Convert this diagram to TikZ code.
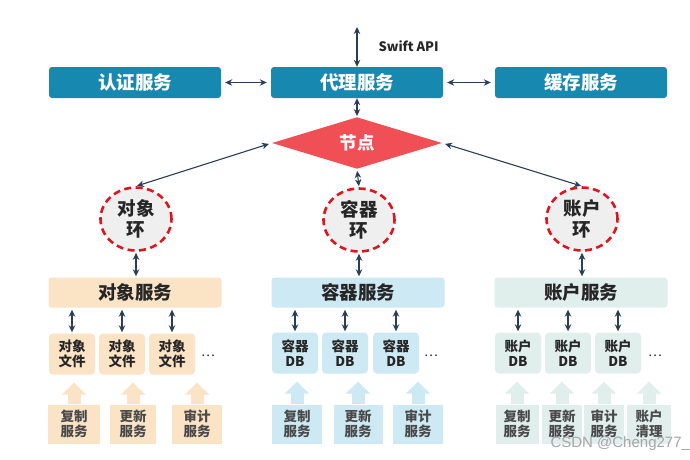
\documentclass[tikz,border=0pt]{standalone}
\usepackage{fontspec}
\setmainfont{Noto Sans CJK SC}
\newfontfamily\markfont{Liberation Sans}
\usetikzlibrary{arrows.meta,shapes.geometric,calc}

\definecolor{topblue}{HTML}{1789B0}
\definecolor{hubred}{HTML}{F04F55}
\definecolor{ringred}{HTML}{E0141C}
\definecolor{ringfill}{HTML}{EFEFEF}
\definecolor{navy}{HTML}{2B3E57}
\definecolor{peach}{HTML}{FBE3C6}
\definecolor{skyblue}{HTML}{CDE9F4}
\definecolor{mint}{HTML}{E1EFEC}
\definecolor{inkdark}{HTML}{262626}
\definecolor{inkgrey}{HTML}{4A4A4A}

\begin{document}
\begin{tikzpicture}[x=1pt,y=-1pt,
  topbox/.style={rectangle, rounded corners=3pt, fill=topblue, text=white,
    minimum width=172pt, minimum height=31pt, inner sep=0pt,
    font=\bfseries\fontsize{18.5}{18.5}\selectfont},
  biarrow/.style={draw=navy, line width=1.1pt,
    {Stealth[length=7pt,width=6.5pt]}-{Stealth[length=7pt,width=6.5pt]}},
  ringnode/.style={ellipse, minimum width=71pt, minimum height=63pt, inner sep=0pt,
    fill=ringfill, draw=ringred, line width=2.6pt, dash pattern=on 7pt off 4.5pt,
    align=center, text=inkdark,
    font=\bfseries\fontsize{18.5}{21}\selectfont},
  svcbox/.style={rectangle, rounded corners=3pt, fill=#1, text=inkdark,
    minimum width=173pt, minimum height=30pt, inner sep=0pt,
    font=\bfseries\fontsize{18.5}{18.5}\selectfont},
  filebox/.style={rectangle, rounded corners=4pt, fill=#1, text=inkdark,
    minimum width=46pt, minimum height=41pt, inner sep=0pt, align=center,
    font=\bfseries\fontsize{13.5}{15}\selectfont},
  workbox/.style={rectangle, fill=#1, text=inkgrey,
    minimum height=39pt, inner sep=0pt, align=center,
    font=\bfseries\fontsize{13.5}{15.5}\selectfont},
  smallarrow/.style={biarrow, shorten <=2pt, shorten >=1pt},
  fatarrow/.style={draw=#1, line width=13pt, shorten >=8pt,
    -{Triangle[length=12pt,width=24pt]}},
  dots/.style={text=inkdark, font=\fontsize{13}{13}\selectfont}
]
\useasboundingbox[fill=white] (0,0) rectangle (690,459);

% ---- top row of services ----
\node[topbox] (auth)  at (135,82.5) {认证服务};
\node[topbox] (proxy) at (357,82.5) {代理服务};
\node[topbox] (cache) at (581,82.5) {缓存服务};

\coordinate (api) at (357,27);
\draw[biarrow] (api) -- (proxy.north);
\node[anchor=west, text=inkdark, font=\bfseries\fontsize{13}{13}\selectfont] (apilabel) at (375,46) {Swift API};

\draw[biarrow, shorten <=4pt, shorten >=4pt] (auth) -- (proxy);
\draw[biarrow, shorten <=4pt, shorten >=4pt] (proxy) -- (cache);

% ---- central node ----
\node[diamond, fill=hubred, text=white, minimum width=170pt, minimum height=38pt,
  inner sep=0pt, font=\bfseries\fontsize{17.5}{17.5}\selectfont] (hub) at (357,143) {节点};
\draw[biarrow, shorten >=1pt] (proxy.south) -- (hub.north);

% ---- rings ----
\node[ringnode] (objring) at (136,219) {对象\\环};
\node[ringnode] (ctrring) at (359,220) {容器\\环};
\node[ringnode] (accring) at (582,219) {账户\\环};

\draw[biarrow, shorten <=3pt, shorten >=1pt] (hub.west) -- (objring.north);
\draw[biarrow, shorten <=2pt, shorten >=1pt] (hub.south) -- (ctrring.north);
\draw[biarrow, shorten <=3pt, shorten >=1pt] (hub.east) -- (accring.north);

% ---- service layer ----
\node[svcbox=peach]   (objsvc) at (135,292.5) {对象服务};
\node[svcbox=skyblue] (ctrsvc) at (358,292.5) {容器服务};
\node[svcbox=mint]    (accsvc) at (581,292.5) {账户服务};

\draw[biarrow, shorten <=1pt, shorten >=1pt] (objring.south) -- (objsvc.north -| objring.south);
\draw[biarrow, shorten <=1pt, shorten >=1pt] (ctrring.south) -- (ctrsvc.north -| ctrring.south);
\draw[biarrow, shorten <=1pt, shorten >=1pt] (accring.south) -- (accsvc.north -| accring.south);

% ---- storage files / databases ----
\node[filebox=peach] (of1) at (72,354)  {对象\\文件};
\node[filebox=peach] (of2) at (122,354) {对象\\文件};
\node[filebox=peach] (of3) at (172,354) {对象\\文件};
\node[dots] (odots) at (208,356) {…};

\node[filebox=skyblue] (cd1) at (295,353) {容器\\DB};
\node[filebox=skyblue] (cd2) at (345,353) {容器\\DB};
\node[filebox=skyblue] (cd3) at (396,353) {容器\\DB};
\node[dots] (cdots) at (431,356) {…};

\node[filebox=mint] (ad1) at (518,353) {账户\\DB};
\node[filebox=mint] (ad2) at (568,353) {账户\\DB};
\node[filebox=mint] (ad3) at (618,353) {账户\\DB};
\node[dots] (adots) at (655,356) {…};

\foreach \f in {of1,of2,of3}
  \draw[smallarrow] (\f.north |- objsvc.south) -- (\f.north);
\foreach \f in {cd1,cd2,cd3}
  \draw[smallarrow] (\f.north |- ctrsvc.south) -- (\f.north);
\foreach \f in {ad1,ad2,ad3}
  \draw[smallarrow] (\f.north |- accsvc.south) -- (\f.north);

% ---- background workers ----
\node[workbox=peach, minimum width=52pt] (orep) at (74,424)  {复制\\服务};
\node[workbox=peach, minimum width=46pt] (oupd) at (133,424) {更新\\服务};
\node[workbox=peach, minimum width=50pt] (oaud) at (197,424) {审计\\服务};

\node[workbox=skyblue, minimum width=50pt] (crep) at (297,424) {复制\\服务};
\node[workbox=skyblue, minimum width=49pt] (cupd) at (358,424) {更新\\服务};
\node[workbox=skyblue, minimum width=50pt] (caud) at (418,424) {审计\\服务};

\node[workbox=mint, minimum width=43pt] (arep) at (517,424) {复制\\服务};
\node[workbox=mint, minimum width=40pt] (aupd) at (562,424) {更新\\服务};
\node[workbox=mint, minimum width=40pt] (aaud) at (604,424) {审计\\服务};
\node[workbox=mint, minimum width=44pt] (acln) at (649,424) {账户\\清理};

\draw[fatarrow=peach] (orep.north) -- (orep.north |- of1.south);
\draw[fatarrow=peach] (oupd.north) -- (oupd.north |- of1.south);
\draw[fatarrow=peach] (oaud.north) -- (oaud.north |- of1.south);

\draw[fatarrow=skyblue] (crep.north) -- (crep.north |- cd1.south);
\draw[fatarrow=skyblue] (cupd.north) -- (cupd.north |- cd1.south);
\draw[fatarrow=skyblue] (caud.north) -- (caud.north |- cd1.south);

\draw[fatarrow=mint] (arep.north) -- (arep.north |- ad1.south);
\draw[fatarrow=mint] (aupd.north) -- (aupd.north |- ad1.south);
\draw[fatarrow=mint] (aaud.north) -- (aaud.north |- ad1.south);
\draw[fatarrow=mint] (acln.north) -- (acln.north |- ad1.south);

% ---- watermark ----
\node[anchor=base west, text=black!35, font=\markfont\fontsize{15}{15}\selectfont] (mark) at (547,447) {CSDN @Cheng277\_};
\end{tikzpicture}
\end{document}
